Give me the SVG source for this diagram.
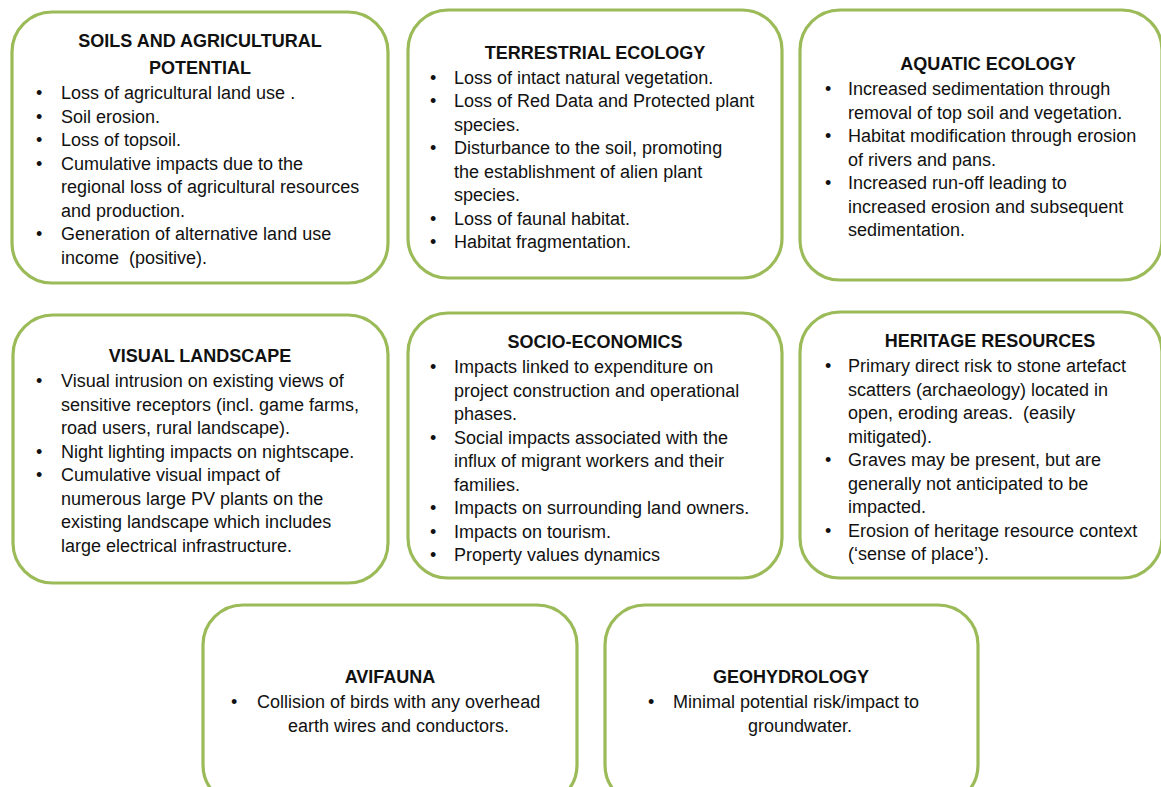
<svg xmlns="http://www.w3.org/2000/svg" width="1161" height="787" viewBox="0 0 1161 787">
<style>
.box{fill:#ffffff;stroke:#9bbb59;stroke-width:3.2}
.t{font-family:"Liberation Sans",Arial,sans-serif;font-size:18px;font-weight:bold;fill:#111;text-anchor:middle}
.b{font-family:"Liberation Sans",Arial,sans-serif;font-size:18px;fill:#111}
</style>
<rect width="1161" height="787" fill="#ffffff"/>
<g id="connectors"></g>

<g id="soils">
<rect class="box" x="12" y="12" width="376" height="271" rx="40"/>
<text class="t" x="200" y="47">SOILS AND AGRICULTURAL</text>
<text class="t" x="200" y="74">POTENTIAL</text>
<text class="b" x="36" y="99">•</text><text class="b" x="61" y="99">Loss of agricultural land use .</text>
<text class="b" x="36" y="122.5">•</text><text class="b" x="61" y="122.5">Soil erosion.</text>
<text class="b" x="36" y="146">•</text><text class="b" x="61" y="146">Loss of topsoil.</text>
<text class="b" x="36" y="169.5">•</text><text class="b" x="61" y="169.5">Cumulative impacts due to the</text>
<text class="b" x="61" y="193">regional loss of agricultural resources</text>
<text class="b" x="61" y="216.5">and production.</text>
<text class="b" x="36" y="240">•</text><text class="b" x="61" y="240">Generation of alternative land use</text>
<text class="b" x="61" y="263.5" xml:space="preserve">income  (positive).</text>
</g>

<g id="terrestrial">
<rect class="box" x="408" y="10" width="374" height="268" rx="40"/>
<text class="t" x="595" y="59">TERRESTRIAL ECOLOGY</text>
<text class="b" x="430" y="83.5">•</text><text class="b" x="454" y="83.5">Loss of intact natural vegetation.</text>
<text class="b" x="430" y="107">•</text><text class="b" x="454" y="107">Loss of Red Data and Protected plant</text>
<text class="b" x="454" y="130.5">species.</text>
<text class="b" x="430" y="154">•</text><text class="b" x="454" y="154">Disturbance to the soil, promoting</text>
<text class="b" x="454" y="177.5">the establishment of alien plant</text>
<text class="b" x="454" y="201">species.</text>
<text class="b" x="430" y="224.5">•</text><text class="b" x="454" y="224.5">Loss of faunal habitat.</text>
<text class="b" x="430" y="248">•</text><text class="b" x="454" y="248">Habitat fragmentation.</text>
</g>

<g id="aquatic">
<rect class="box" x="800" y="10" width="362" height="270" rx="40"/>
<text class="t" x="988" y="70">AQUATIC ECOLOGY</text>
<text class="b" x="825" y="95">•</text><text class="b" x="848" y="95">Increased sedimentation through</text>
<text class="b" x="848" y="118.5">removal of top soil and vegetation.</text>
<text class="b" x="825" y="142">•</text><text class="b" x="848" y="142">Habitat modification through erosion</text>
<text class="b" x="848" y="165.5">of rivers and pans.</text>
<text class="b" x="825" y="189">•</text><text class="b" x="848" y="189">Increased run-off leading to</text>
<text class="b" x="848" y="212.5">increased erosion and subsequent</text>
<text class="b" x="848" y="236">sedimentation.</text>
</g>

<g id="visual">
<rect class="box" x="13" y="315" width="375" height="268" rx="40"/>
<text class="t" x="200" y="362">VISUAL LANDSCAPE</text>
<text class="b" x="36" y="387">•</text><text class="b" x="61" y="387">Visual intrusion on existing views of</text>
<text class="b" x="61" y="410.5">sensitive receptors (incl. game farms,</text>
<text class="b" x="61" y="434">road users, rural landscape).</text>
<text class="b" x="36" y="457.5">•</text><text class="b" x="61" y="457.5">Night lighting impacts on nightscape.</text>
<text class="b" x="36" y="481">•</text><text class="b" x="61" y="481">Cumulative visual impact of</text>
<text class="b" x="61" y="504.5">numerous large PV plants on the</text>
<text class="b" x="61" y="528">existing landscape which includes</text>
<text class="b" x="61" y="551.5">large electrical infrastructure.</text>
</g>

<g id="socio">
<rect class="box" x="408" y="313" width="374" height="265" rx="40"/>
<text class="t" x="595" y="348">SOCIO-ECONOMICS</text>
<text class="b" x="430" y="373">•</text><text class="b" x="454" y="373">Impacts linked to expenditure on</text>
<text class="b" x="454" y="396.5">project construction and operational</text>
<text class="b" x="454" y="420">phases.</text>
<text class="b" x="430" y="443.5">•</text><text class="b" x="454" y="443.5">Social impacts associated with the</text>
<text class="b" x="454" y="467">influx of migrant workers and their</text>
<text class="b" x="454" y="490.5">families.</text>
<text class="b" x="430" y="514">•</text><text class="b" x="454" y="514">Impacts on surrounding land owners.</text>
<text class="b" x="430" y="537.5">•</text><text class="b" x="454" y="537.5">Impacts on tourism.</text>
<text class="b" x="430" y="561">•</text><text class="b" x="454" y="561">Property values dynamics</text>
</g>

<g id="heritage">
<rect class="box" x="800" y="312" width="362" height="266" rx="40"/>
<text class="t" x="990" y="347">HERITAGE RESOURCES</text>
<text class="b" x="825" y="372">•</text><text class="b" x="848" y="372">Primary direct risk to stone artefact</text>
<text class="b" x="848" y="395.5">scatters (archaeology) located in</text>
<text class="b" x="848" y="419" xml:space="preserve">open, eroding areas.  (easily</text>
<text class="b" x="848" y="442.5">mitigated).</text>
<text class="b" x="825" y="466">•</text><text class="b" x="848" y="466">Graves may be present, but are</text>
<text class="b" x="848" y="489.5">generally not anticipated to be</text>
<text class="b" x="848" y="513">impacted.</text>
<text class="b" x="825" y="536.5">•</text><text class="b" x="848" y="536.5">Erosion of heritage resource context</text>
<text class="b" x="848" y="560">(‘sense of place’).</text>
</g>

<g id="avifauna">
<rect class="box" x="203" y="605" width="374" height="200" rx="40"/>
<text class="t" x="390" y="683">AVIFAUNA</text>
<text class="b" x="231" y="708">•</text><text class="b" x="257" y="708">Collision of birds with any overhead</text>
<text class="b" x="288" y="732">earth wires and conductors.</text>
</g>

<g id="geohydrology">
<rect class="box" x="605" y="605" width="373" height="200" rx="40"/>
<text class="t" x="791" y="683">GEOHYDROLOGY</text>
<text class="b" x="648" y="708">•</text><text class="b" x="673" y="708">Minimal potential risk/impact to</text>
<text class="b" x="748" y="732">groundwater.</text>
</g>
</svg>
